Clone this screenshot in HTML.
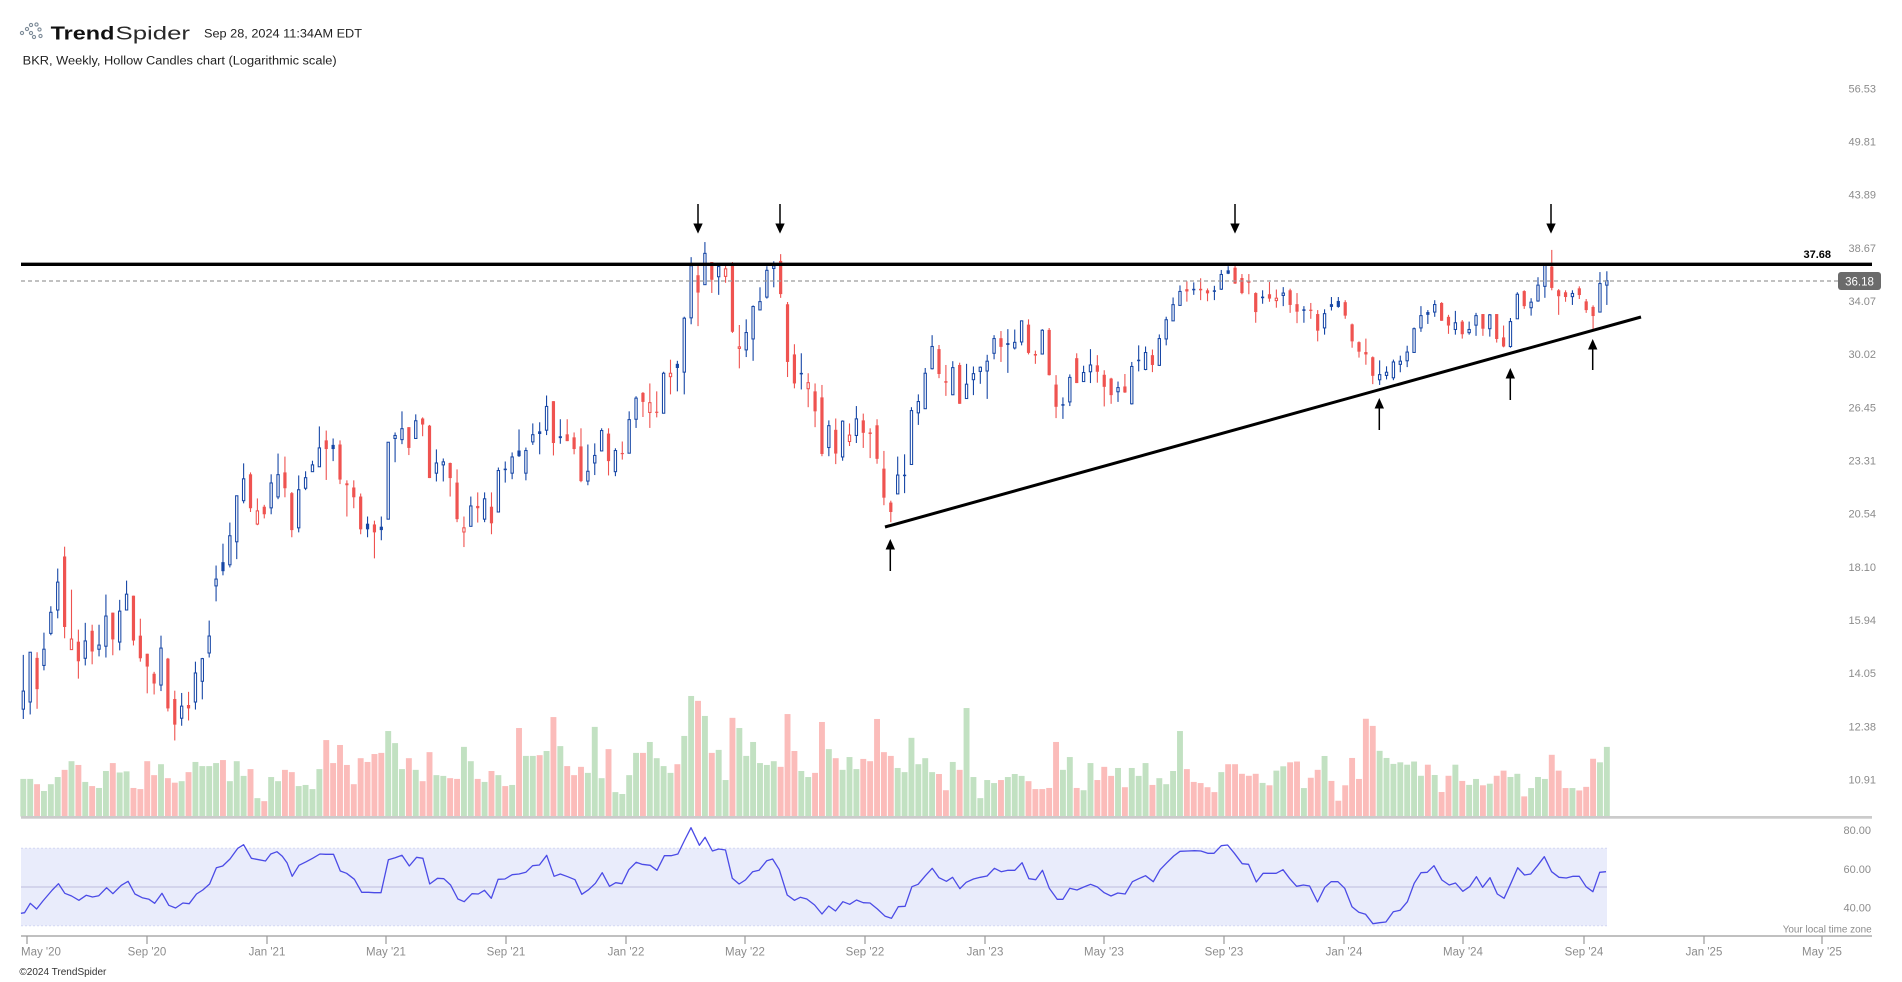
<!DOCTYPE html>
<html><head><meta charset="utf-8">
<style>
html,body{margin:0;padding:0;background:#fff;}
svg{display:block;font-family:"Liberation Sans",Arial,sans-serif;}
</style></head>
<body>
<svg id="chart" width="1902" height="982" viewBox="0 0 1902 982" xmlns="http://www.w3.org/2000/svg">
<rect width="1902" height="982" fill="#fff"/>
<!-- header -->
<g fill="none" stroke="#7d8b98" stroke-width="1.1">
<circle cx="22" cy="33" r="1.6"/><circle cx="27" cy="29" r="1.6"/><circle cx="31" cy="25" r="1.6"/>
<circle cx="36.5" cy="24.5" r="1.6"/><circle cx="39.5" cy="29.5" r="1.6"/><circle cx="31" cy="33" r="1.6"/>
<circle cx="34" cy="37" r="1.6"/><circle cx="40.5" cy="36" r="1.6"/>
</g>
<text x="50.7" y="39.3" font-size="18" font-weight="bold" fill="#111" textLength="63.7" lengthAdjust="spacingAndGlyphs">Trend</text>
<text x="115.5" y="39.3" font-size="18" fill="#2a2a2a" textLength="74.5" lengthAdjust="spacingAndGlyphs">Spider</text>
<text x="204" y="37.5" font-size="12" fill="#222" textLength="158" lengthAdjust="spacingAndGlyphs">Sep 28, 2024 11:34AM EDT</text>
<text x="22.7" y="64.3" font-size="11.5" fill="#222" textLength="314" lengthAdjust="spacingAndGlyphs">BKR, Weekly, Hollow Candles chart (Logarithmic scale)</text>

<!-- price axis labels -->
<g font-size="11" fill="#8c8c8c" text-anchor="end">
<text x="1876" y="92.4">56.53</text>
<text x="1876" y="145.5">49.81</text>
<text x="1876" y="198.7">43.89</text>
<text x="1876" y="251.9">38.67</text>
<text x="1876" y="305">34.07</text>
<text x="1876" y="358.2">30.02</text>
<text x="1876" y="411.4">26.45</text>
<text x="1876" y="464.5">23.31</text>
<text x="1876" y="517.7">20.54</text>
<text x="1876" y="570.8">18.10</text>
<text x="1876" y="624.2">15.94</text>
<text x="1876" y="677.2">14.05</text>
<text x="1876" y="730.4">12.38</text>
<text x="1876" y="783.5">10.91</text>
<text x="1871" y="834">80.00</text>
<text x="1871" y="873">60.00</text>
<text x="1871" y="911.7">40.00</text>
</g>

<!-- volume -->
<g id="vol"></g>
<rect x="21" y="816" width="1851" height="2.7" fill="#cbcbcb"/>

<!-- RSI -->
<rect x="21" y="848.3" width="1586" height="77.4" fill="#e9ecfb"/>
<line x1="21" x2="1607" y1="848.3" y2="848.3" stroke="#d3d7f3" stroke-width="1" stroke-dasharray="2 2"/>
<line x1="21" x2="1607" y1="925.7" y2="925.7" stroke="#d3d7f3" stroke-width="1" stroke-dasharray="2 2"/>
<line x1="21" x2="1607" y1="887" y2="887" stroke="#c6c6e4" stroke-width="1.3"/>
<polyline id="rsi" fill="none" stroke="#4b4be6" stroke-width="1.3" stroke-linejoin="round" points=""/>

<!-- x axis -->
<line x1="21" x2="1872" y1="936" y2="936" stroke="#9a9a9a" stroke-width="1.3"/>
<g stroke="#9a9a9a" stroke-width="1.2">
<line x1="27" x2="27" y1="936" y2="944"/><line x1="147" x2="147" y1="936" y2="944"/>
<line x1="267" x2="267" y1="936" y2="944"/><line x1="386" x2="386" y1="936" y2="944"/>
<line x1="506" x2="506" y1="936" y2="944"/><line x1="626" x2="626" y1="936" y2="944"/>
<line x1="745" x2="745" y1="936" y2="944"/><line x1="865" x2="865" y1="936" y2="944"/>
<line x1="985" x2="985" y1="936" y2="944"/><line x1="1104" x2="1104" y1="936" y2="944"/>
<line x1="1224" x2="1224" y1="936" y2="944"/><line x1="1344" x2="1344" y1="936" y2="944"/>
<line x1="1463" x2="1463" y1="936" y2="944"/><line x1="1584" x2="1584" y1="936" y2="944"/>
<line x1="1704" x2="1704" y1="936" y2="944"/><line x1="1822" x2="1822" y1="936" y2="944"/>
</g>
<g font-size="11.5" fill="#8c8c8c" text-anchor="middle">
<text x="21" y="955.5" text-anchor="start">May '20</text>
<text x="147" y="955.5">Sep '20</text>
<text x="267" y="955.5">Jan '21</text>
<text x="386" y="955.5">May '21</text>
<text x="506" y="955.5">Sep '21</text>
<text x="626" y="955.5">Jan '22</text>
<text x="745" y="955.5">May '22</text>
<text x="865" y="955.5">Sep '22</text>
<text x="985" y="955.5">Jan '23</text>
<text x="1104" y="955.5">May '23</text>
<text x="1224" y="955.5">Sep '23</text>
<text x="1344" y="955.5">Jan '24</text>
<text x="1463" y="955.5">May '24</text>
<text x="1584" y="955.5">Sep '24</text>
<text x="1704" y="955.5">Jan '25</text>
<text x="1822" y="955.5">May '25</text>
</g>
<text x="1782.7" y="932.5" font-size="10.5" fill="#8c8c8c" textLength="89" lengthAdjust="spacingAndGlyphs">Your local time zone</text>
<text x="19.4" y="975" font-size="10" fill="#333" textLength="87" lengthAdjust="spacingAndGlyphs">©2024 TrendSpider</text>

<!-- candles -->
<g id="cndl"></g>

<!-- lines -->
<line x1="21" x2="1838" y1="281" y2="281" stroke="#9c9c9c" stroke-width="1.2" stroke-dasharray="4 3"/>
<line x1="21" x2="1872" y1="264.3" y2="264.3" stroke="#000" stroke-width="3.4"/>
<text x="1831" y="258" font-size="11" font-weight="bold" fill="#000" text-anchor="end">37.68</text>
<rect x="1838" y="272" width="43" height="18" rx="3" fill="#6b6b6b"/>
<text x="1859.5" y="285.3" font-size="11.5" fill="#fff" text-anchor="middle">36.18</text>
<line x1="885" y1="527" x2="1641" y2="317" stroke="#000" stroke-width="3"/>

<!-- arrows -->
<g fill="#000" stroke="#000">
<line x1="698" x2="698" y1="204" y2="225" stroke-width="1.5"/><polygon stroke="none" points="693.3,223.5 702.7,223.5 698,233.6"/>
<line x1="780" x2="780" y1="204" y2="225" stroke-width="1.5"/><polygon stroke="none" points="775.3,223.5 784.7,223.5 780,233.6"/>
<line x1="1235" x2="1235" y1="204" y2="225" stroke-width="1.5"/><polygon stroke="none" points="1230.3,223.5 1239.7,223.5 1235,233.6"/>
<line x1="1551" x2="1551" y1="204" y2="225" stroke-width="1.5"/><polygon stroke="none" points="1546.3,223.5 1555.7,223.5 1551,233.6"/>
<polygon stroke="none" points="890.3,539 885.6,549.5 895,549.5"/><line x1="890.3" x2="890.3" y1="548" y2="571" stroke-width="1.5"/>
<polygon stroke="none" points="1379.3,398 1374.6,408.5 1384,408.5"/><line x1="1379.3" x2="1379.3" y1="407" y2="430" stroke-width="1.5"/>
<polygon stroke="none" points="1510.3,368 1505.6,378.5 1515,378.5"/><line x1="1510.3" x2="1510.3" y1="377" y2="400" stroke-width="1.5"/>
<polygon stroke="none" points="1592.7,339 1588,349.5 1597.4,349.5"/><line x1="1592.7" x2="1592.7" y1="348" y2="370" stroke-width="1.5"/>
</g>
</svg>
<script>
(function(){
var BL="#1747a6",RD="#ef5350",VG="#c2e1c2",VR="#fbbcba";
var segs=[
[230,0.377,"U,1127,1297,1223,1271;U,1120,1285,1120,1252;D,1120,1270,1135,1218;U,1068,1168,1112,1155;U,998,1075,1014,1070;U,898,1030,934,1008;D,840,1083,866,1053;R,954,1113,1085,1113;D,1060,1190,1092,1144;U,1042,1155,1090,1136;D,1047,1152,1063,1118;U,1047,1131,1101,1112;U,967,1134,1024,1104;D,1015,1128,1015,1086;U,981,1115,1011,1093;U,930,1008,966,1008;D,970,1102,970,1089;D,1031,1145,1076,1136;D,1124,1229,1124,1158;D,1172,1232,1177,1203;U,1076,1223,1109,1207;D,1135,1277,1137,1269;D,1222,1354,1244,1312;U,1228,1315,1263,1295;D,1225,1301,1260,1269;U,1145,1272,1175,1252;U,1135,1245,1137,1197;U,1036,1134,1077,1122;U,890,985,926,944;B,832,916,881,905;U,776,895,811,888;U,705,873,705,827;U,619,725,660,718;D,643,748,648,738;R,712,783,745,780;D,729,765,734,754;U,648,754,671,737;U,593,714,649,708;D,601,709,643,685;D,695,815,698,796;U,651,802,689,790;U,640,690,657,685;U,612,641,623,641;U,521,628,578,628;D,532,663,558,581;B,553,613,570,581;D,558,674,569,662;D,664,760,672,677;D,664,738,683,709;D,699,807,707,794;B,760,815,779,794;D,771,871,781,802;B,760,823,787,796;U,563,767,563,767;U,537,616,545,553;U,481,568,527,556;D,523,597,523,578;U,489,553,506,553"],
[230,0.377,"D,497,547,500,516;D,517,658,519,658;U,582,667,618,645;U,606,667,615,623;D,617,707,618,658;D,635,775,670,767;R,760,841,790,801;U,707,786,732,786;D,696,776,732,738;U,696,775,713,767;D,696,807,734,778;U,630,748,638,748;B,614,670,633,637;U,590,661,602,645;B,529,602,585,600;U,577,664,585,645;U,513,570,543,562;B,510,595,534,541;U,439,544,468,531;D,454,598,454,565;B,502,567,547,552;D,502,560,542,560;D,537,595,550,581;D,526,669,574,666;U,569,677,640,666;U,566,650,598,618;U,526,587,532,586;D,526,651,540,613;U,579,653,585,641;D,561,609,592,594;U,481,592,503,592;U,441,525,446,502;D,430,496,432,456;R,407,525,458,484;D,428,497,482,485;U,376,486,380,486;R,344,436,380,389;B,347,428,355,366;U,230,436,234,377;U,72,250,95,233;D,95,255,120,166;U,32,145,62,145;D,85,167,85,132;U,88,172,97,124;R,88,140,103,123;D,85,273,90,270;R,252,367,310,314;U,237,337,272,318;U,200,347,203,289;U,152,213,190,212;U,96,182,107,178;U,83,152,95,102;D,64,180,82,170;D,191,390,197,350;D,303,420,330,407;B,327,423,379,383;R,380,470,405,421;D,407,523,428,481;D,411,600,444,594;U,505,600,519,577"],
[230,0.377,"D,500,621,530,593;U,505,612,507,602;R,513,573,544,561;U,467,565,501,545;D,487,578,505,538;D,526,605,537,541;D,502,620,518,607;D,586,730,633,710;D,718,775,723,748;U,601,700,650,700;B,595,698,649,653;U,470,622,479,622;U,436,517,455,485;U,366,475,380,474;U,279,370,309,368;D,305,393,316,382;D,358,440,401,405;U,348,438,365,437;D,352,461,358,461;U,355,448,409,447;U,362,438,381,397;U,362,408,364,375;U,331,448,348,374;U,279,343,288,327;D,268,350,287,310;B,263,379,300,305;U,264,317,298,313;U,240,306,241,297;D,237,330,251,326;D,320,355,329,333;U,263,330,266,329;D,260,386,265,385;D,385,499,410,469;B,444,501,462,466;U,383,467,391,456;D,327,406,340,406;U,360,403,378,402;U,316,406,358,376;D,332,405,359,376;D,372,468,384,416;D,392,461,394,438;U,402,456,418,429;D,382,432,415,431;U,350,463,362,461;B,306,375,344,348;U,309,372,325,370;D,317,377,332,358;U,277,360,288,359;U,230,306,238,289;U,179,241,198,241;U,147,200,163,200;D,136,190,157,163;B,139,172,156,160;D,128,186,156,160;D,155,189,160,168;B,148,186,160,164;U,106,159,118,157;B,96,117,107,116;D,92,143,100,142"],
[200,0.396,"D,187,238,197,235;D,187,238,204,209;D,233,310,235,283;B,228,262,244,248;D,207,257,238,249;R,226,272,248,254;U,220,268,235,241;D,224,285,228,265;D,235,311,263,282;B,268,310,276,280;D,260,300,277,280;D,278,357,288,330;U,276,340,287,323;B,245,279,263,270;B,245,272,255,270;D,253,300,258,292;D,312,373,314,357;D,357,398,359,383;D,350,416,384,390;D,395,465,397,444;U,405,467,441,454;U,420,453,435,443;U,403,455,409,449;U,393,435,407,415;U,368,422,384,406;U,322,385,325,385;U,268,333,292,323;B,278,313,283,290;U,253,295,264,283;D,258,305,260,305;D,290,338,295,317;U,280,340,310,327;D,303,350,307,339;U,307,340,327,335;U,285,343,292,316;D,288,343,288,325;U,288,345,290,325;D,288,360,288,351;D,317,372,347,370;U,298,373,307,370;U,233,300,238,300;D,228,275,230,268;U,248,292,258,272;U,195,257,215,255;U,160,247,163,218;D,126,228,168,222;D,225,290,228,243;D,228,257,233,245;U,228,265,236,244;D,218,250,223,240;D,250,285,256,278;D,266,327,270,293;U,182,283,211,283;U,180,265,204,215"]
];
var vsegs=[
[230,0.377,"G1456 G1456 R1470 G1488 G1470 G1451 R1432 G1409 R1419 G1464 R1475 G1480 G1435 R1414 G1439 G1436 R1480 R1483 R1409 R1446 G1417 R1454 R1466 G1462 R1438 G1411 G1422 G1422 G1414 R1406 G1462 G1409 G1448 R1430 G1507 R1515 G1451 G1462 R1432 R1438 G1475 G1472 G1483 G1430 R1353 R1414 R1366 R1419 R1470 R1401 R1411 R1390 R1387 G1329 G1361 G1430 R1401 G1432"],
[230,0.377,"R1462 R1385 G1446 G1448 R1454 R1456 G1371 G1409 R1456 G1464 R1435 G1446 R1475 G1472 R1321 G1395 G1395 R1393 G1382 R1292 G1369 R1422 R1446 R1424 G1440 G1318 G1454 R1377 G1491 G1496 G1446 G1387 R1387 G1358 G1401 G1422 G1440 R1417 G1342 G1236 R1249 G1289 R1387 G1379 G1459 R1294 G1321 G1395 G1358 G1414 G1419 G1409 R1424 R1284 R1382 G1435 G1451 R1440 R1305 G1377"],
[230,0.377,"R1401 G1432 G1398 G1430 R1403 R1409 R1297 R1385 R1395 G1427 G1438 G1347 G1417 G1401 G1438 R1443 R1486 G1411 R1432 G1268 G1451 G1507 G1459 G1467 R1459 G1451 G1443 G1448 R1462 R1483 R1483 R1480 R1358 G1432 G1398 R1480 G1486 G1414 R1459 R1424 R1448 G1427 R1478 G1427 G1448 G1414 R1472 G1454 G1470 G1435 G1329 R1430 R1464 R1467 R1478 R1491 G1438 R1417 R1417"],
[200,0.396,"R1449 R1454 R1449 G1472 R1478 G1441 G1430 R1420 R1418 G1485 R1459 R1439 G1404 R1467 R1517 R1478 R1409 R1462 R1310 R1328 G1391 G1409 G1424 G1420 G1426 G1418 G1454 R1426 G1452 R1495 R1454 G1426 R1467 G1477 G1462 R1478 G1474 R1454 R1441 G1457 G1449 R1506 G1485 G1457 G1462 R1401 R1441 R1485 G1485 R1491 R1482 R1411 G1420 G1381"]
];
function X(i){return 23.3+6.885*i;}
var out=[],i=0;
segs.forEach(function(s){
  s[2].split(";").forEach(function(r){
    var p=r.split(","),t=p[0];
    var f=function(v){return s[0]+(+v)*s[1];};
    var cx=X(i),col=(t=="U"||t=="B")?BL:RD;
    var wt=f(p[1]),wb=f(p[2]),bt=f(p[3]),bb=f(p[4]);
    if(bb-bt<1.2){var m=(bt+bb)/2;bt=m-0.6;bb=m+0.6;}
    out.push('<line x1="'+cx.toFixed(2)+'" x2="'+cx.toFixed(2)+'" y1="'+wt.toFixed(2)+'" y2="'+wb.toFixed(2)+'" stroke="'+col+'" stroke-width="1.1"/>');
    if(t=="U"||t=="R") out.push('<rect x="'+(cx-1.15).toFixed(2)+'" y="'+bt.toFixed(2)+'" width="2.3" height="'+(bb-bt).toFixed(2)+'" fill="#fff" stroke="'+col+'" stroke-width="1.05"/>');
    else out.push('<rect x="'+(cx-1.6).toFixed(2)+'" y="'+bt.toFixed(2)+'" width="3.2" height="'+(bb-bt).toFixed(2)+'" fill="'+col+'"/>');
    i++;
  });
});
document.getElementById("cndl").innerHTML=out.join("");
var vo=[];i=0;
vsegs.forEach(function(s){
  s[2].split(" ").forEach(function(r){
    var c=r.charAt(0)=="G"?VG:VR;
    var y=s[0]+(+r.substring(1))*s[1];
    var cx=X(i);
    vo.push('<rect x="'+(cx-2.95).toFixed(2)+'" y="'+y.toFixed(2)+'" width="5.9" height="'+(816.5-y).toFixed(2)+'" fill="'+c+'"/>');
    i++;
  });
});
document.getElementById("vol").innerHTML=vo.join("");
var z10="40,235 47,233 58,205 70,222 82,198 100,165 112,146 124,175 137,183 151,196 165,181 177,186 189,182 204,158 216,176 232,151 245,139 258,177 272,188 285,193 296,205 310,175 323,211 336,219 350,204 362,206 376,177 388,165 401,147 414,98 426,93 440,72 455,40 466,29 481,70 495,74 508,78 518,57 530,50 540,64 549,83 559,124 572,91 586,80 598,70 612,57 623,58 638,58 651,108 663,115 678,133 692,172 705,172 716,173 729,173 743,74 756,68 769,61 783,93 797,67 809,70 822,147 837,130 849,131 862,150 876,192 888,200 903,176 915,177 927,166 940,190 953,133 966,132 980,119 993,117 1006,112 1019,92 1032,90 1046,61 1060,124 1072,117 1086,125 1100,134 1113,178 1126,164 1139,145 1152,113 1166,154 1178,143 1190,146 1203,104 1217,82 1228,88 1244,91 1257,106 1271,62 1284,62 1297,57 1310,15 1322,-22 1338,31 1349,7 1363,48 1375,42 1388,45 1401,130 1414,147 1426,135 1440,110 1452,106 1467,77 1478,72 1491,104 1506,180 1520,196 1531,187";
var z11="13,192 28,210 42,237 55,213 68,228 82,200 95,208 108,195 121,203 134,204 148,222 163,244 175,250 188,215 201,214 214,155 226,148 240,122 253,100 266,128 280,139 292,127 306,161 318,142 332,132 345,127 358,123 372,100 385,110 398,106 411,106 425,83 438,131 451,134 464,106 477,160 492,193 503,193 516,160 530,165 543,156 556,148 569,156 582,173 595,183 608,174 622,177 636,140 648,131 661,122 676,140 689,104 702,83 715,63 727,49 742,48 755,47 767,48 780,55 792,55 806,32 818,30 831,55 846,86 858,88 873,141 886,115 899,115 911,115 924,104 937,131 950,154 963,150 975,153 990,201 1004,157 1016,140 1029,140 1042,160 1056,215 1069,232 1082,238 1096,266 1109,263 1121,261 1135,230 1148,226 1162,200 1175,145 1188,113 1200,112 1213,92 1228,135 1242,150 1254,144 1268,169 1281,155 1294,125 1306,157 1320,128 1334,177 1347,190 1360,145 1373,98 1386,120 1398,117 1411,92 1424,65 1438,110 1452,127 1466,129 1479,124 1491,124 1504,155 1517,170 1530,112 1542,110";
var pts=[];
z10.split(" ").forEach(function(q){var a=q.split(",");pts.push((+a[0]*0.5227).toFixed(1)+","+(835+a[1]/3).toFixed(1));});
z11.split(" ").forEach(function(q){var a=q.split(",");pts.push((800+a[0]*0.5227).toFixed(1)+","+(835+a[1]/3).toFixed(1));});
document.getElementById("rsi").setAttribute("points",pts.join(" "));
})();
</script>
</body></html>
